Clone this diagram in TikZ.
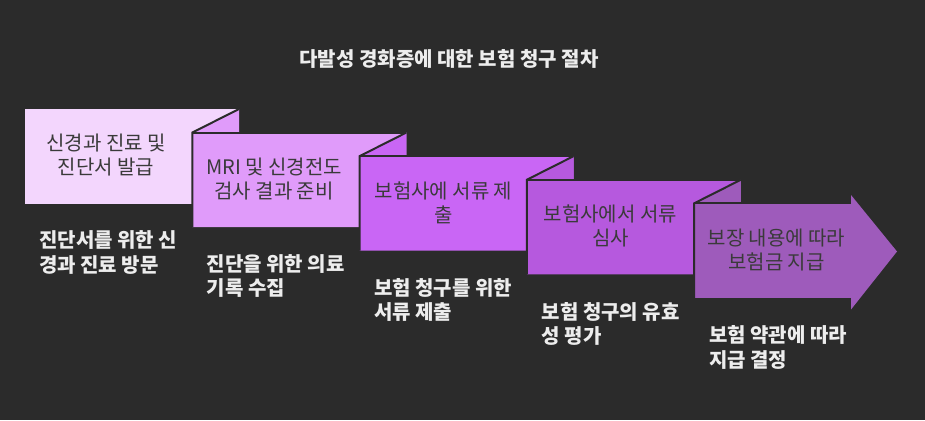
\documentclass[tikz,border=0pt]{standalone}
\usepackage{fontspec}
\setmainfont{Noto Sans CJK KR}
\definecolor{bg}{HTML}{2B2B2B}
\definecolor{cA}{HTML}{F3D6FD}
\definecolor{cB}{HTML}{E09BFA}
\definecolor{cC}{HTML}{C966F5}
\definecolor{cD}{HTML}{B659DE}
\definecolor{cE}{HTML}{9E5BBB}
\definecolor{boxtext}{HTML}{3A3A3A}
\definecolor{labtext}{HTML}{EDEDED}
\tikzset{
  boxlabel/.style={inner sep=0pt, align=center, text=boxtext, font=\fontsize{20}{24}\selectfont},
  steplabel/.style={inner sep=0pt, align=left, anchor=west, text=labtext, font=\bfseries\fontsize{20}{24.5}\selectfont},
  titlelabel/.style={inner sep=0pt, text=labtext, font=\bfseries\fontsize{20}{22}\selectfont},
  edge/.style={draw=bg, line width=2pt, line join=miter},
}
\begin{document}
\begin{tikzpicture}[x=1pt,y=-1pt]
\fill[bg] (0,0) rectangle (925,420);
\useasboundingbox (0,0) rectangle (925,420);
% box 1
\fill[cA] (25,109) rectangle (239,203.5);
% box 2
\fill[cB] (192.25,132.6) -- (239,109) -- (239,132.6) -- (406.25,132.6) -- (406.25,227.1) -- (192.25,227.1) -- cycle;
\draw[edge] (192.25,227.1) -- (192.25,132.6) -- (239,109);
\draw[edge] (192.25,132.6) -- (406.25,132.6);
% box 3
\fill[cC] (359.5,156.2) -- (406.25,132.6) -- (406.25,156.2) -- (573.5,156.2) -- (573.5,250.7) -- (359.5,250.7) -- cycle;
\draw[edge] (359.5,250.7) -- (359.5,156.2) -- (406.25,132.6);
\draw[edge] (359.5,156.2) -- (573.5,156.2);
% box 4
\fill[cD] (526.75,179.8) -- (573.5,156.2) -- (573.5,179.8) -- (740.75,179.8) -- (740.75,274.3) -- (526.75,274.3) -- cycle;
\draw[edge] (526.75,274.3) -- (526.75,179.8) -- (573.5,156.2);
\draw[edge] (526.75,179.8) -- (740.75,179.8);
% box 5 (arrow)
\fill[cE] (694,203.4) -- (740.75,179.8) -- (740.75,203.4) -- (851,203.4) -- (851,195) -- (897,251.5) -- (851,309.5) -- (851,297.9) -- (694,297.9) -- cycle;
\draw[edge] (694,297.9) -- (694,203.4) -- (740.75,179.8);
\draw[edge] (694,203.4) -- (851,203.4);
% title
\node[titlelabel] (title) at (449,59) {다발성 경화증에 대한 보험 청구 절차};
% box texts
\node[boxlabel] (b1) at (106,155.5) {신경과 진료 및\\진단서 발급};
\node[boxlabel] (b2) at (274,179.1) {MRI 및 신경전도\\검사 결과 준비};
\node[boxlabel] (b3) at (443.5,202.7) {보험사에 서류 제\\출};
\node[boxlabel] (b4) at (610.4,226.3) {보험사에서 서류\\심사};
\node[boxlabel] (b5) at (776.5,250) {보장 내용에 따라\\보험금 지급};
% step labels
\node[steplabel] (l1) at (39,252.5) {진단서를 위한 신\\경과 진료 방문};
\node[steplabel] (l2) at (206.5,276) {진단을 위한 의료\\기록 수집};
\node[steplabel] (l3) at (374,300) {보험 청구를 위한\\서류 제출};
\node[steplabel] (l4) at (541.5,323.7) {보험 청구의 유효\\성 평가};
\node[steplabel] (l5) at (709,347.5) {보험 약관에 따라\\지급 결정};
\end{tikzpicture}
\end{document}
